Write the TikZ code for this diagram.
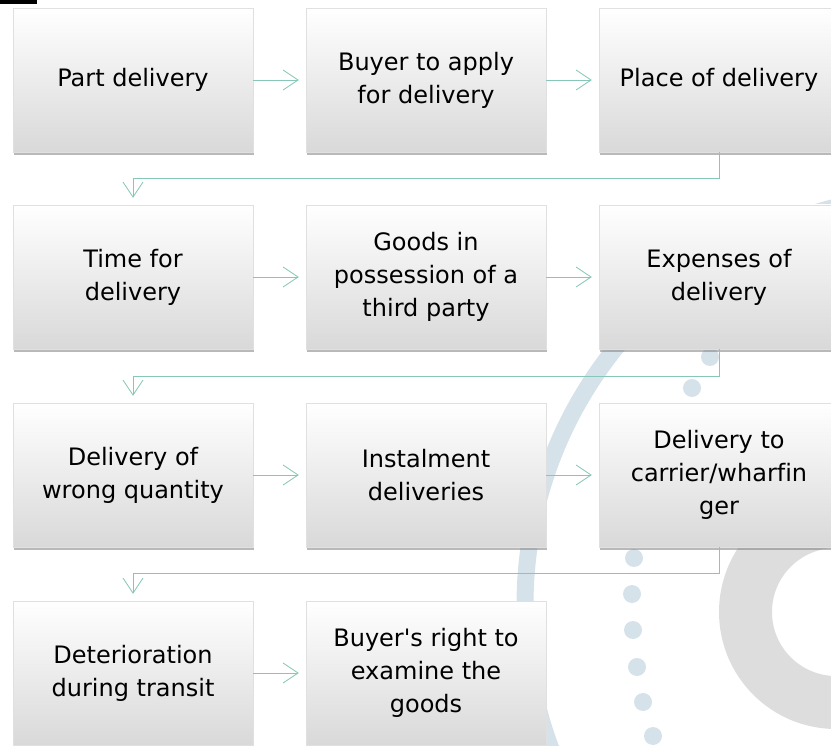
\documentclass[tikz,border=0pt]{standalone}
\usepackage{fontspec}
\setmainfont{DejaVu Sans}[Ligatures=NoCommon]
\usetikzlibrary{arrows.meta,shadows}
\definecolor{linkc}{HTML}{86C7B7}
\definecolor{ringc}{HTML}{DDDDDD}
\definecolor{arcc}{HTML}{D6E2EA}
\tikzset{
  box/.style={draw=black!12, top color=white, middle color=white, bottom color=black!15,
    minimum width=240pt, minimum height=144pt, align=center,
    font=\fontsize{24}{33}\selectfont, text=black,
    drop shadow={shadow xshift=1pt, shadow yshift=-3pt, opacity=.55}},
  link/.style={draw=linkc, line width=.8pt, shorten >=7pt,
    -{Straight Barb[length=15pt,width=20pt]}}
}
\begin{document}
\begin{tikzpicture}[x=1pt,y=-1pt]
\useasboundingbox (0,0) rectangle (831,746);
\fill (0,0) rectangle (37,4);
% slide background
\draw[arcc, line width=17pt] (935,605) circle[radius=410];
\fill[ringc, even odd rule] (836,612) circle[radius=117] (836,612) circle[radius=64];
\foreach \p in {(710,357),(692,388),(634,558),(632,594),(633,630),(637,667),(643,702),(653,736)}
  \fill[arcc] \p circle[radius=9];
% boxes
\node[box] (part)    at (133,80)  {Part delivery};
\node[box] (apply)   at (426,80)  {Buyer to apply\\for delivery};
\node[box] (place)   at (719,80)  {Place of delivery};
\node[box] (time)    at (133,277) {Time for\\delivery};
\node[box] (third)   at (426,277) {Goods in\\possession of a\\third party};
\node[box] (expense) at (719,277) {Expenses of\\delivery};
\node[box] (wrong)   at (133,475) {Delivery of\\wrong quantity};
\node[box] (instal)  at (426,475) {Instalment\\deliveries};
\node[box] (carrier) at (719,475) {Delivery to\\carrier/wharfin\\ger};
\node[box] (deter)   at (133,673) {Deterioration\\during transit};
\node[box] (examine) at (426,673) {Buyer\textquotesingle s right to\\examine the\\goods};
% links
\draw[link] (part) -- (apply);  \draw[link] (apply) -- (place);
\draw[link] (time) -- (third);  \draw[link] (third) -- (expense);
\draw[link] (wrong) -- (instal);  \draw[link] (instal) -- (carrier);
\draw[link] (deter) -- (examine);
\draw[link] (place.south) -- ++(0,26) -| (time.north);
\draw[link] (expense.south) -- ++(0,27) -| (wrong.north);
\draw[link] (carrier.south) -- ++(0,26) -| (deter.north);
\end{tikzpicture}
\end{document}
